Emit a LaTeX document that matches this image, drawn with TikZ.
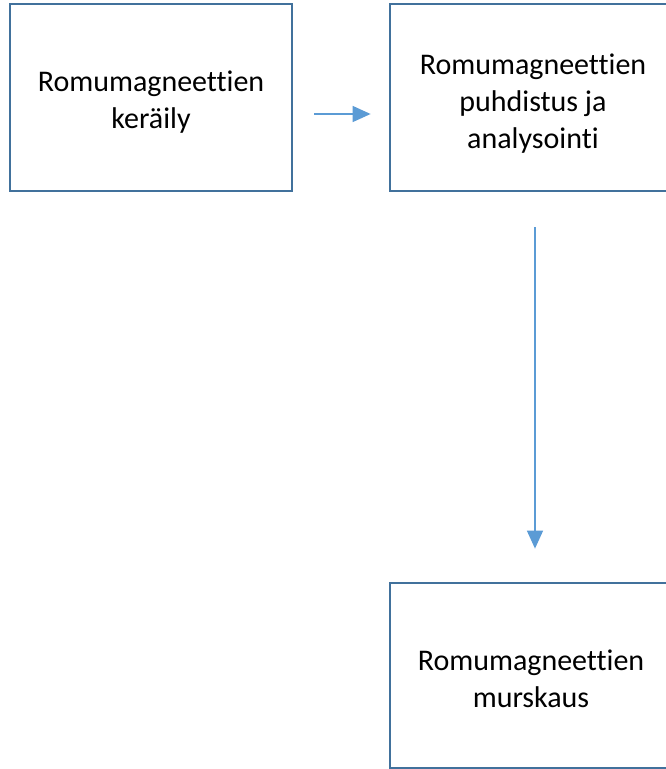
\documentclass[tikz,border=0pt]{standalone}
\usepackage{fontspec}
\setmainfont[Ligatures=NoCommon]{Carlito}
\usepackage{xcolor}
\usetikzlibrary{positioning,arrows.meta}
\definecolor{boxline}{HTML}{41719C}
\definecolor{arrowline}{HTML}{5B9BD5}
\tikzset{
  vaihe/.style={draw=boxline, line width=2.8pt, minimum width=282pt, minimum height=187pt, inner sep=0pt},
  teksti/.style={align=center, inner sep=0pt, font=\fontsize{30}{37}\selectfont},
  nuoli/.style={draw=arrowline, line width=1.5pt, -{Triangle[length=18pt,width=16pt]}}
}
\begin{document}
\begin{tikzpicture}[x=1pt, y=-1pt]
	\useasboundingbox (0,0) rectangle (666,769);
	\clip (0,0) rectangle (666,769);
	\fill[white] (0,0) rectangle (666,769);
	\node [vaihe] (keraily) at (151,97.5) {};
	\node [vaihe] (puhdistus) at (531,97.5) {};
	\node [vaihe, minimum height=185pt] (murskaus) at (531,675.5) {};
	\node [teksti] (keraily-t) at ([yshift=-5pt]keraily.center) {Romumagneettien\\keräily};
	\node [teksti] (puhdistus-t) at ([xshift=2pt,yshift=-6pt]puhdistus.center) {Romumagneettien\\puhdistus ja\\analysointi};
	\node [teksti] (murskaus-t) at ([yshift=-3pt]murskaus.center) {Romumagneettien\\murskaus};
	\draw [nuoli] ([xshift=21pt,yshift=-16.5pt]keraily.east) -- ([xshift=-18pt,yshift=-16.5pt]puhdistus.west);
	\draw [nuoli] ([xshift=4pt,yshift=-35pt]puhdistus.south) -- ([xshift=4pt,yshift=33pt]murskaus.north);
\end{tikzpicture}
\end{document}
